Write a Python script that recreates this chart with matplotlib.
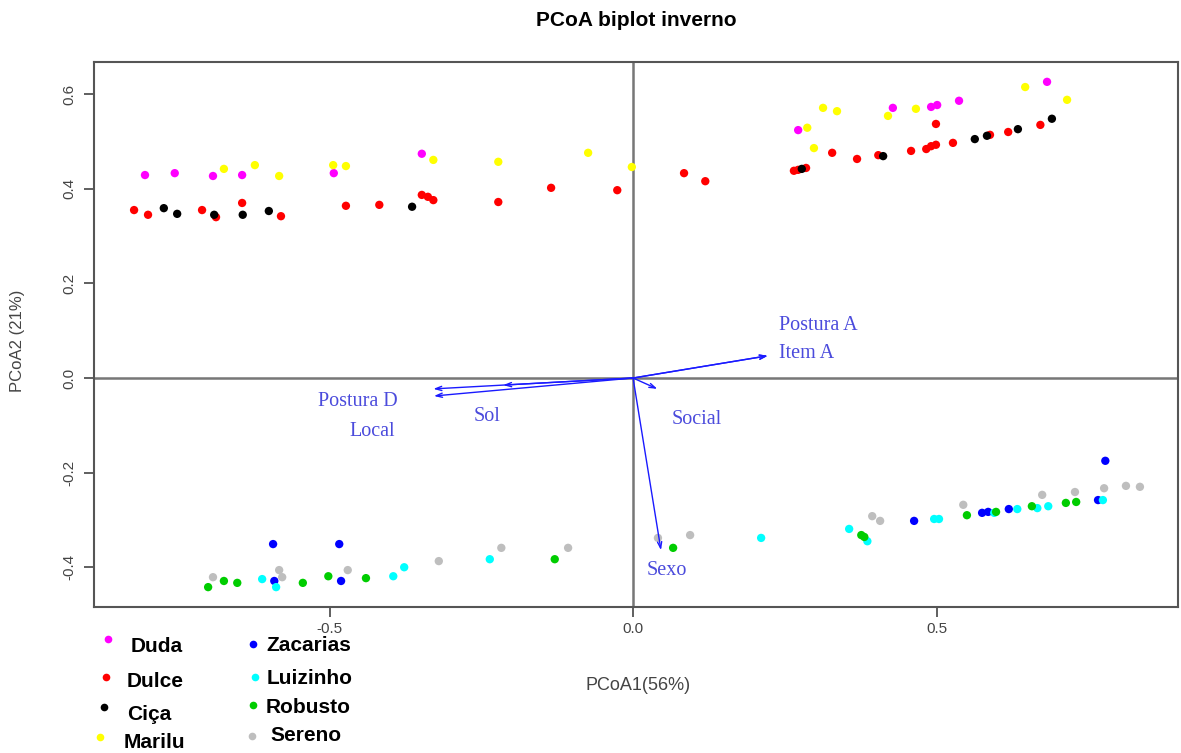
import numpy as np
import matplotlib
matplotlib.use("Agg")
from matplotlib import pyplot as plt

plt.rcParams.update({
    'font.family': ['Liberation Sans', 'DejaVu Sans'],
})

# PCoA scores per individual (axis 1, axis 2)
duda_x = [-0.804, -0.755, -0.692, -0.644, -0.493, -0.348, 0.272, 0.428, 0.491, 0.501, 0.537, 0.682]
duda_y = [0.429, 0.433, 0.427, 0.429, 0.433, 0.474, 0.524, 0.571, 0.573, 0.577, 0.586, 0.626]

dulce_x = [-0.822, -0.799, -0.710, -0.687, -0.644, -0.580, -0.473, -0.418, -0.348, -0.338, -0.329,
           -0.222, -0.135, -0.026, 0.084, 0.119, 0.265, 0.272, 0.285, 0.328, 0.369, 0.404, 0.458,
           0.483, 0.491, 0.499, 0.499, 0.527, 0.588, 0.618, 0.671]
dulce_y = [0.355, 0.345, 0.355, 0.340, 0.370, 0.342, 0.364, 0.366, 0.387, 0.383, 0.376,
           0.372, 0.402, 0.397, 0.433, 0.416, 0.438, 0.440, 0.444, 0.476, 0.463, 0.471, 0.480,
           0.484, 0.490, 0.493, 0.537, 0.497, 0.514, 0.520, 0.535]

cica_x = [-0.773, -0.751, -0.690, -0.643, -0.600, -0.364, 0.278, 0.412, 0.563, 0.583, 0.634, 0.690]
cica_y = [0.359, 0.347, 0.345, 0.345, 0.353, 0.362, 0.442, 0.469, 0.505, 0.512, 0.526, 0.548]

marilu_x = [-0.674, -0.623, -0.583, -0.494, -0.473, -0.329, -0.222, -0.074, -0.002, 0.287, 0.298,
            0.313, 0.336, 0.420, 0.466, 0.646, 0.715]
marilu_y = [0.442, 0.450, 0.427, 0.450, 0.448, 0.461, 0.457, 0.476, 0.446, 0.529, 0.486,
            0.571, 0.564, 0.554, 0.569, 0.615, 0.588]

zacarias_x = [-0.593, -0.484, -0.591, -0.481, 0.463, 0.575, 0.585, 0.619, 0.766, 0.778]
zacarias_y = [-0.351, -0.351, -0.429, -0.429, -0.302, -0.285, -0.283, -0.277, -0.258, -0.175]

luizinho_x = [-0.611, -0.588, -0.395, -0.377, -0.236, 0.211, 0.356, 0.386, 0.496, 0.504, 0.595,
              0.633, 0.666, 0.684, 0.774]
luizinho_y = [-0.425, -0.442, -0.419, -0.400, -0.383, -0.338, -0.319, -0.345, -0.298, -0.298, -0.285,
              -0.277, -0.275, -0.271, -0.258]

robusto_x = [-0.700, -0.674, -0.652, -0.544, -0.502, -0.440, -0.129, 0.066, 0.376, 0.381, 0.550,
             0.598, 0.657, 0.713, 0.730]
robusto_y = [-0.442, -0.429, -0.433, -0.433, -0.419, -0.423, -0.383, -0.359, -0.332, -0.336, -0.290,
             -0.283, -0.271, -0.264, -0.262]

sereno_x = [-0.692, -0.583, -0.578, -0.470, -0.320, -0.217, -0.107, 0.041, 0.094, 0.394, 0.407,
            0.544, 0.674, 0.728, 0.776, 0.812, 0.835]
sereno_y = [-0.421, -0.406, -0.421, -0.406, -0.387, -0.359, -0.359, -0.338, -0.332, -0.292, -0.302,
            -0.268, -0.247, -0.241, -0.233, -0.228, -0.230]

# variable loadings (arrow tips)
var_names = ['Postura A', 'Item A', 'Postura D', 'Local', 'Sol', 'Social', 'Sexo']
var_x = [0.222, 0.222, -0.329, -0.328, -0.214, 0.040, 0.046]
var_y = [0.047, 0.047, -0.023, -0.038, -0.015, -0.023, -0.364]

groups = [
    ('Duda', duda_x, duda_y, '#FF00FF'),
    ('Dulce', dulce_x, dulce_y, '#FF0000'),
    ('Ciça', cica_x, cica_y, '#000000'),
    ('Marilu', marilu_x, marilu_y, '#FFFF00'),
    ('Zacarias', zacarias_x, zacarias_y, '#0000FF'),
    ('Luizinho', luizinho_x, luizinho_y, '#00FFFF'),
    ('Robusto', robusto_x, robusto_y, '#00CD00'),
    ('Sereno', sereno_x, sereno_y, '#BEBEBE'),
]

fig = plt.figure(figsize=(11.81, 7.53), dpi=100)
ax = fig.add_axes([0.0796, 0.1939, 0.918, 0.7238])

ax.axhline(0, color='#777777', lw=1.8, zorder=1)
ax.axvline(0, color='#777777', lw=1.8, zorder=1)

for name, xs, ys, col in groups:
    ax.scatter(xs, ys, s=36, color=col, edgecolors='none', zorder=3)

arrow_col = '#1a1aff'
for vx, vy in zip(var_x, var_y):
    ax.annotate('', xy=(vx, vy), xytext=(0, 0),
                arrowprops=dict(arrowstyle='->,head_length=0.45,head_width=0.15',
                                color=arrow_col, lw=1.0, shrinkA=0, shrinkB=0),
                zorder=4)

# label placement for the variable arrows
lab_pos = {
    'Postura A': (0.240, 0.112, 'left'),
    'Item A': (0.240, 0.051, 'left'),
    'Postura D': (-0.453, -0.049, 'center'),
    'Local': (-0.430, -0.114, 'center'),
    'Sol': (-0.241, -0.082, 'center'),
    'Social': (0.105, -0.087, 'center'),
    'Sexo': (0.056, -0.406, 'center'),
}
for nm in var_names:
    lx, ly, ha = lab_pos[nm]
    ax.text(lx, ly, nm, color='#4b4bdc', fontsize=14.5, ha=ha, va='center',
            family=['Liberation Serif', 'DejaVu Serif'], zorder=5)

ax.set_xlim(-0.888, 0.898)
ax.set_ylim(-0.484, 0.668)
ax.set_xticks([-0.5, 0.0, 0.5])
ax.set_xticklabels(['-0.5', '0.0', '0.5'])
ax.set_yticks([-0.4, -0.2, 0.0, 0.2, 0.4, 0.6])
ax.set_yticklabels(['-0.4', '-0.2', '0.0', '0.2', '0.4', '0.6'], rotation=90, va='center')
ax.tick_params(axis='both', direction='out', length=7, width=1.2, color='#444444',
               labelcolor='#444444', labelsize=11)
ax.tick_params(axis='x', pad=4)
ax.tick_params(axis='y', pad=6)
for sp in ax.spines.values():
    sp.set_color('#555555')
    sp.set_linewidth(1.5)

fig.text(0.5385, 0.973, 'PCoA biplot inverno', ha='center', va='center',
         fontsize=15, fontweight='bold')
fig.text(0.540, 0.089, 'PCoA1(56%)', ha='center', va='center', fontsize=13, color='#444444')
fig.text(0.0152, 0.548, 'PCoA2 (21%)', ha='center', va='center', fontsize=12,
         color='#444444', rotation=90)

# hand-placed legend below the plot (marker xy, text xy in figure fraction)
leg_pos = [
    ((0.0914, 0.1514), (0.1109, 0.1408)),
    ((0.0898, 0.1009), (0.1075, 0.0943)),
    ((0.0881, 0.0611), (0.1075, 0.0505)),
    ((0.0847, 0.0212), (0.1050, 0.0133)),
    ((0.2142, 0.1448), (0.2252, 0.1434)),
    ((0.2159, 0.1009), (0.2261, 0.0983)),
    ((0.2142, 0.0637), (0.2252, 0.0598)),
    ((0.2134, 0.0226), (0.2286, 0.0239)),
]
for (name, xs, ys, col), (mp, tp) in zip(groups, leg_pos):
    fig.lines.append(plt.Line2D([mp[0]], [mp[1]], marker='o', markersize=5.5, color=col,
                                markeredgewidth=0, linestyle='none', transform=fig.transFigure))
    fig.text(tp[0], tp[1], name, ha='left', va='center', fontsize=15, fontweight='bold')

fig.savefig('out.png', dpi=100)
